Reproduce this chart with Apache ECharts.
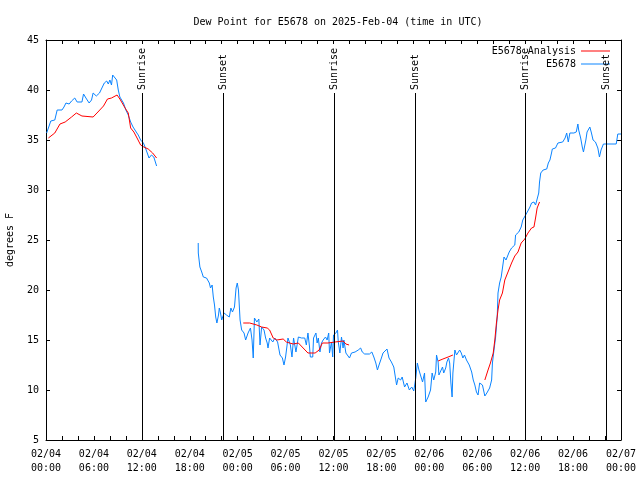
<!DOCTYPE html>
<html>
<head>
<meta charset="utf-8">
<script src="https://cdn.jsdelivr.net/npm/echarts@6/dist/echarts.min.js"></script>
<style>html,body{margin:0;padding:0;background:#fff}#c{width:640px;height:480px}</style>
</head>
<body>
<div id="c"></div>
<script>
// Time in hours since 02/04 00:00 UTC; null marks a gap
const obsHours = [0.08,0.3,0.6,0.85,1.1,1.4,2.0,2.25,2.5,2.9,3.2,3.6,3.9,4.5,4.7,5.0,5.4,5.7,5.9,6.3,6.7,7.0,7.3,7.6,7.8,8.0,8.2,8.35,8.6,8.85,9.05,9.25,9.5,9.7,10.0,10.3,10.6,10.9,11.3,11.55,11.85,12.2,12.5,12.9,13.2,13.5,13.85,
 16.0,
 19.06,19.07,19.27,19.5,19.7,20.1,20.45,20.6,20.8,20.95,21.1,21.25,21.4,21.6,21.7,21.85,22.0,22.3,22.6,22.95,23.15,23.35,23.6,23.8,23.95,24.1,24.3,24.5,24.8,25.0,25.3,25.6,25.8,25.95,26.1,26.4,26.65,26.8,27.0,27.3,27.5,27.7,27.8,28.0,28.4,28.65,29.0,29.3,29.6,29.8,30.0,30.3,30.6,30.8,31.0,31.3,31.6,32.0,32.2,32.4,32.6,32.8,33.0,33.1,33.4,33.5,33.8,33.95,34.1,34.3,34.5,34.7,35.0,35.2,35.4,35.5,35.75,35.9,36.0,36.3,36.5,36.6,36.8,37.0,37.2,37.3,37.55,37.8,38.0,38.25,38.7,39.1,39.4,39.6,39.9,40.5,40.8,41.05,41.3,41.5,41.7,42.0,42.2,42.4,42.7,42.95,43.25,43.55,43.8,43.9,44.1,44.4,44.6,44.9,45.2,45.5,45.8,46.05,46.3,46.5,46.7,47.0,47.15,47.4,47.55,47.85,48.15,48.35,48.55,48.8,48.9,49.1,49.2,49.4,49.65,49.8,50.05,50.2,50.4,50.55,50.7,50.85,50.95,51.2,51.4,51.6,51.8,52.0,52.2,52.4,52.65,53.0,53.3,53.5,53.7,53.9,54.1,54.3,54.65,54.95,55.2,55.55,55.8,55.9,56.05,56.3,56.5,56.6,56.8,57.0,57.2,57.35,57.6,57.7,58.0,58.3,58.7,58.8,59.2,59.5,59.7,59.95,60.2,60.4,60.6,60.8,61.1,61.3,61.5,61.7,61.8,61.95,62.25,62.7,62.9,63.1,63.3,63.4,63.8,64.1,64.7,65.0,65.2,65.4,65.6,65.8,66.1,66.4,66.6,66.7,66.95,67.15,67.3,67.6,67.75,68.1,68.3,68.5,68.8,69.1,69.3,69.5,69.8,70.2,71.4,71.6,72.0];
const obsValues = [35.7,36.2,36.9,36.7,37.0,38.0,38.0,38.3,38.7,38.6,38.9,39.2,38.8,38.8,39.6,39.2,38.7,39.0,39.7,39.4,39.7,40.2,40.7,40.9,40.6,41.0,40.5,41.5,41.3,41.0,40.0,39.3,39.1,38.7,38.0,37.5,36.8,36.3,35.8,35.5,35.0,34.7,34.1,33.2,33.5,33.3,32.4,
 null,
 24.7,23.7,22.3,21.8,21.3,21.2,20.7,20.2,20.5,19.3,18.5,17.3,16.7,17.5,18.2,17.7,17.0,17.7,17.5,17.3,18.2,17.8,18.3,20.2,20.7,20.0,17.0,16.0,15.7,15.0,15.7,16.2,15.0,13.2,17.2,16.8,17.1,14.5,16.3,16.0,15.2,14.7,14.2,15.2,14.8,15.2,14.8,13.5,13.2,12.5,13.3,15.2,14.5,13.3,15.2,13.8,15.3,15.2,15.3,15.2,14.5,15.7,14.3,13.3,13.3,15.2,15.7,14.7,15.2,13.8,14.7,15.0,15.3,15.0,15.7,13.7,14.8,13.3,15.5,15.7,16.0,14.8,13.7,15.3,14.2,15.0,13.7,13.8,13.2,13.7,13.8,14.0,14.2,13.8,13.6,13.6,13.8,13.3,12.7,12.0,12.5,13.2,13.7,13.5,14.1,13.2,12.8,12.3,12.2,10.5,11.2,11.0,11.3,10.3,10.7,10.0,10.3,9.9,11.2,12.7,12.0,11.2,10.8,11.7,8.8,9.3,10.0,11.7,11.0,11.8,13.5,12.8,11.5,11.3,12.3,11.7,12.2,12.8,13.2,12.7,10.7,9.3,11.7,14.0,13.5,13.7,14.0,13.7,13.2,13.5,13.0,12.5,11.8,11.0,10.5,9.8,9.5,10.7,10.5,9.4,9.7,10.2,11.0,12.7,13.7,15.3,17.3,19.7,20.7,21.3,21.5,23.3,23.0,22.8,23.8,24.2,24.5,25.5,25.8,26.3,27.0,27.0,27.7,28.0,28.3,28.7,28.8,28.5,28.3,29.7,30.8,31.7,32.0,32.1,32.7,33.0,33.7,34.1,34.2,34.7,34.8,35.2,35.7,34.8,35.7,35.9,35.7,35.8,36.6,36.0,35.2,34.3,33.8,35.0,35.8,36.3,35.7,35.0,34.8,34.2,33.3,34.0,34.6,34.6,34.6,35.6,35.6];

const anaHours = [0.3,1.1,1.75,2.4,3.2,3.8,4.5,5.9,6.5,7.2,7.7,8.2,8.9,9.25,9.9,10.3,10.6,11.0,11.4,11.85,12.25,12.8,13.35,13.85,
 18.0,
 24.7,25.5,26.4,27.0,27.7,28.0,28.45,28.9,29.7,30.1,30.5,30.95,31.6,32.2,32.8,33.7,34.2,34.6,35.3,36.2,37.2,37.55,37.95,
 44.0,
 49.1,49.7,50.35,50.95,
 53.0,
 54.95,55.35,55.65,56.0,56.2,56.4,56.6,56.8,57.15,57.45,57.85,58.3,58.7,59.1,59.5,59.95,60.35,60.8,61.1,61.3,61.5,61.8];
const anaValues = [35.2,35.7,36.6,36.8,37.3,37.7,37.4,37.3,37.8,38.4,39.1,39.2,39.5,39.1,38.2,37.7,36.2,35.8,35.2,34.5,34.3,34.1,33.7,33.2,
 null,
 16.7,16.7,16.5,16.3,16.2,16.0,15.2,15.0,15.1,14.8,14.7,14.6,14.7,14.2,13.7,13.7,14.0,14.7,14.7,14.8,14.9,14.6,14.5,
 null,
 12.9,13.1,13.3,13.5,
 null,
 11.0,12.0,12.7,13.7,15.0,16.7,18.0,19.0,19.7,21.0,21.8,22.7,23.4,23.8,24.7,25.1,25.7,26.2,26.3,27.2,28.2,28.8];

const sunHours = [12.02, 22.17, 36.05, 46.2, 59.98, 70.12];
const sunLabels = ['Sunrise','Sunset','Sunrise','Sunset','Sunrise','Sunset'];

const xTickLabels = ['02/04\n00:00','02/04\n06:00','02/04\n12:00','02/04\n18:00','02/05\n00:00','02/05\n06:00','02/05\n12:00','02/05\n18:00','02/06\n00:00','02/06\n06:00','02/06\n12:00','02/06\n18:00','02/07\n00:00'];
const yTicks = [5,10,15,20,25,30,35,40,45];

const FONT = 'DejaVu Sans Mono';
const pair = (hs, vs) => hs.map((h, i) => [h, vs[i] === null ? '-' : vs[i]]);

const chart = echarts.init(document.getElementById('c'), null, {renderer: 'canvas'});
const tickStyle = {show: true, inside: true, length: 4, lineStyle: {color: '#000', width: 1}};
const minorStyle = {show: true, splitNumber: 3, length: 4, lineStyle: {color: '#000', width: 1}};
const baseX = {type: 'value', min: 0, max: 72, interval: 6, splitLine: {show: false},
  axisLine: {show: true, onZero: false, lineStyle: {color: '#000', width: 1}},
  axisTick: tickStyle, minorTick: minorStyle, minorSplitLine: {show: false}};
const baseY = {type: 'value', min: yTicks[0], max: yTicks[yTicks.length - 1], interval: 5, splitLine: {show: false},
  axisLine: {show: true, onZero: false, lineStyle: {color: '#000', width: 1}},
  axisTick: tickStyle};
const legendBase = {right: 30, padding: 0, itemWidth: 29, itemHeight: 1, itemGap: 0, icon: 'rect',
  align: 'right', textStyle: {fontFamily: FONT, fontSize: 10, color: '#000'}};

chart.setOption({
  animation: false,
  backgroundColor: '#fff',
  title: {text: 'Dew Point for E5678 on 2025-Feb-04 (time in UTC)', left: 333, top: 12, textAlign: 'center',
    textStyle: {fontFamily: FONT, fontSize: 10, fontWeight: 'normal', color: '#000'}},
  grid: {left: 46, right: 19, top: 40, bottom: 40, show: false, containLabel: false, outerBoundsMode: 'none'},
  legend: [
    Object.assign({}, legendBase, {data: ['E5678 Analysis'], top: 46}),
    Object.assign({}, legendBase, {data: ['E5678'], top: 59})
  ],
  xAxis: [
    Object.assign({}, baseX, {position: 'bottom',
      axisLabel: {show: true, margin: 7, lineHeight: 14, fontFamily: FONT, fontSize: 10, color: '#000',
        formatter: v => xTickLabels[Math.round(v / 6)] || ''}}),
    Object.assign({}, baseX, {position: 'top', axisLabel: {show: false}})
  ],
  yAxis: [
    Object.assign({}, baseY, {position: 'left',
      name: 'degrees F', nameLocation: 'middle', nameRotate: 90, nameGap: 31,
      nameTextStyle: {fontFamily: FONT, fontSize: 10, color: '#000'},
      axisLabel: {show: true, margin: 7, fontFamily: FONT, fontSize: 10, color: '#000'}}),
    Object.assign({}, baseY, {position: 'right', axisLabel: {show: false}})
  ],
  series: [
    {name: 'E5678 Analysis', type: 'line', data: pair(anaHours, anaValues), symbol: 'none', showSymbol: false,
      connectNulls: false, lineStyle: {color: '#ff0000', width: 1}, itemStyle: {color: '#ff0000'}, z: 3},
    {name: 'E5678', type: 'line', data: pair(obsHours, obsValues), symbol: 'none', showSymbol: false,
      connectNulls: false, lineStyle: {color: '#0a84ff', width: 1}, itemStyle: {color: '#0a84ff'}, z: 2},
    {name: 'sun', type: 'custom', z: 4, silent: true,
      data: sunHours.map((h, i) => [h, yTicks[0], i]),
      renderItem: function (params, api) {
        const p = api.coord([api.value(0), api.value(1)]);
        const x = Math.round(p[0]) + 0.5;
        const yTop = params.coordSys.y + 53;
        return {type: 'group', children: [
          {type: 'line', shape: {x1: x, y1: yTop, x2: x, y2: p[1]}, style: {stroke: '#000', lineWidth: 1}},
          {type: 'text', x: x, y: yTop - 3, rotation: Math.PI / 2,
            style: {text: sunLabels[api.value(2)], align: 'left', verticalAlign: 'middle',
              font: '10px "' + FONT + '"', fill: '#000'}}
        ]};
      }}
  ]
});
</script>
</body>
</html>
